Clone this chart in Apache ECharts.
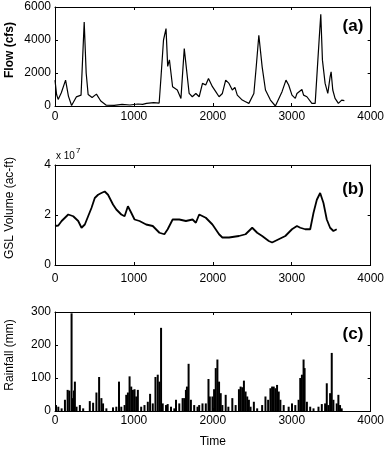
<!DOCTYPE html>
<html>
<head>
<meta charset="utf-8">
<script src="https://cdn.jsdelivr.net/npm/echarts@6/dist/echarts.min.js"></script>
<style>
  html, body { margin: 0; padding: 0; background: #fff; }
  #chart { width: 387px; height: 449px; }
</style>
</head>
<body>
<div id="chart"></div>
<script>
// (a) river flow, cfs
const flowTime = [0, 20, 40, 80, 134, 170, 210, 270, 330, 345, 370, 395, 420, 470, 525, 580, 650, 750, 850, 950, 1050, 1110, 1160, 1250, 1320, 1344, 1375, 1407, 1428, 1450, 1470, 1490, 1550, 1596, 1638, 1660, 1700, 1740, 1785, 1827, 1869, 1910, 1945, 1995, 2037, 2058, 2079, 2121, 2163, 2205, 2247, 2280, 2310, 2373, 2415, 2457, 2520, 2550, 2583, 2625, 2667, 2730, 2793, 2877, 2927, 2961, 3003, 3045, 3066, 3129, 3150, 3192, 3255, 3297, 3331, 3347, 3368, 3389, 3423, 3457, 3486, 3499, 3520, 3549, 3591, 3633, 3667];
const flowValue = [1570, 700, 400, 800, 1570, 600, 30, 550, 660, 560, 5090, 2000, 700, 520, 720, 300, 50, 40, 100, 60, 120, 100, 160, 200, 180, 1800, 4000, 4690, 2400, 2800, 2700, 1170, 970, 460, 3480, 3450, 760, 560, 760, 560, 1370, 1270, 1670, 1170, 870, 980, 560, 760, 1570, 1370, 970, 1130, 660, 360, 260, 160, 760, 2375, 4290, 2375, 970, 360, 0, 870, 1570, 1270, 660, 460, 760, 1000, 660, 560, 160, 160, 2780, 4000, 5560, 2780, 1370, 760, 1770, 2070, 970, 460, 160, 360, 330];

// (b) Great Salt Lake volume, x 10^7 ac-ft
const gslTime = [0, 42, 84, 168, 231, 294, 336, 378, 420, 462, 504, 546, 588, 630, 672, 735, 777, 840, 882, 924, 966, 1008, 1071, 1155, 1239, 1323, 1386, 1428, 1491, 1575, 1659, 1743, 1785, 1827, 1911, 1995, 2079, 2121, 2205, 2331, 2415, 2499, 2562, 2625, 2709, 2751, 2835, 2919, 3003, 3066, 3108, 3171, 3234, 3276, 3318, 3360, 3402, 3444, 3486, 3528, 3570];
const gslValue = [1.56, 1.58, 1.76, 2.02, 1.95, 1.76, 1.49, 1.62, 1.95, 2.28, 2.68, 2.81, 2.88, 2.94, 2.81, 2.42, 2.22, 2.02, 1.95, 2.35, 2.09, 1.82, 1.76, 1.62, 1.56, 1.29, 1.23, 1.43, 1.82, 1.82, 1.76, 1.82, 1.69, 2.02, 1.89, 1.62, 1.23, 1.10, 1.10, 1.16, 1.23, 1.49, 1.29, 1.16, 0.96, 0.90, 1.03, 1.16, 1.43, 1.56, 1.49, 1.43, 1.43, 2.09, 2.61, 2.88, 2.48, 1.82, 1.49, 1.36, 1.43];

// (c) rainfall, mm
const rainTime = [13, 42, 84, 126, 160, 181, 210, 223, 240, 252, 273, 315, 357, 441, 483, 525, 559, 588, 609, 651, 735, 777, 811, 840, 882, 903, 924, 945, 966, 987, 1008, 1029, 1050, 1092, 1134, 1176, 1205, 1239, 1273, 1302, 1323, 1344, 1365, 1407, 1428, 1470, 1512, 1533, 1575, 1617, 1638, 1659, 1672, 1693, 1722, 1764, 1806, 1827, 1869, 1911, 1945, 1962, 1995, 2016, 2037, 2058, 2079, 2100, 2121, 2163, 2197, 2247, 2289, 2331, 2352, 2373, 2394, 2415, 2436, 2457, 2478, 2520, 2562, 2625, 2667, 2701, 2730, 2751, 2772, 2793, 2814, 2835, 2856, 2898, 2961, 3003, 3045, 3087, 3108, 3129, 3150, 3163, 3192, 3234, 3276, 3339, 3381, 3423, 3444, 3465, 3486, 3507, 3528, 3570, 3591, 3612, 3633];
const rainValue = [18, 13, 8, 34, 64, 62, 296, 39, 62, 89, 13, 18, 8, 30, 25, 56, 103, 39, 23, 8, 11, 13, 89, 13, 18, 49, 56, 105, 74, 64, 66, 44, 64, 13, 18, 28, 52, 23, 103, 110, 89, 252, 23, 18, 21, 13, 8, 34, 23, 39, 39, 64, 74, 143, 34, 18, 13, 18, 23, 23, 97, 44, 44, 66, 130, 156, 89, 54, 18, 49, 13, 39, 18, 66, 74, 72, 92, 59, 44, 34, 13, 28, 8, 18, 44, 34, 69, 74, 74, 69, 79, 59, 34, 18, 13, 23, 18, 34, 100, 110, 156, 130, 28, 13, 8, 13, 21, 23, 84, 18, 54, 176, 34, 23, 49, 18, 8];

const xTicks = [0, 1000, 2000, 3000, 4000];

const chart = echarts.init(document.getElementById('chart'));

const font = 'Liberation Sans, Arial, sans-serif';
const grids = [
  {left: 55, top: 7, width: 319, height: 99},
  {left: 55, top: 165, width: 319, height: 100},
  {left: 55, top: 312, width: 319, height: 99}
];
const yRanges = [[0, 6000, 2000], [0, 4, 2], [0, 300, 100]];
const xLabelMargin = [5, 8, 4];
const plain = v => String(v);

function xAx(i, top) {
  return {
    type: 'value', gridIndex: i, min: xTicks[0], max: xTicks[xTicks.length - 1], interval: 1000,
    position: top ? 'top' : 'bottom',
    axisLine: {show: true, onZero: false, lineStyle: {color: '#000', width: 1}},
    axisTick: {show: true, inside: true, length: 3, lineStyle: {color: '#000'}},
    axisLabel: {show: !top, color: '#000', fontSize: 12, fontFamily: font, margin: xLabelMargin[i], formatter: plain},
    splitLine: {show: false}
  };
}
function yAx(i, right) {
  return {
    type: 'value', gridIndex: i, min: yRanges[i][0], max: yRanges[i][1], interval: yRanges[i][2],
    position: right ? 'right' : 'left',
    axisLine: {show: true, onZero: false, lineStyle: {color: '#000', width: 1}},
    axisTick: {show: true, inside: true, length: 3, lineStyle: {color: '#000'}},
    axisLabel: {show: !right, color: '#000', fontSize: 12, fontFamily: font, margin: 4, formatter: plain},
    splitLine: {show: false}
  };
}

const xAxes = [xAx(0), xAx(1), xAx(2), xAx(0, true), xAx(1, true), xAx(2, true)];
xAxes[2].name = 'Time';
xAxes[2].nameLocation = 'middle';
xAxes[2].nameGap = 25;
xAxes[2].nameTextStyle = {color: '#000', fontSize: 12, fontFamily: font};

function vtext(txt, x, y, weight) {
  return {type: 'text', x: x, y: y, rotation: Math.PI / 2,
    style: {text: txt, fill: '#000', font: (weight || 'normal') + ' 12px ' + font, textAlign: 'center', textVerticalAlign: 'middle'}};
}
function tag(txt, x, y) {
  return {type: 'text', x: x, y: y,
    style: {text: txt, fill: '#000', font: 'bold 17px ' + font, textAlign: 'center', textVerticalAlign: 'middle'}};
}

chart.setOption({
  animation: false,
  backgroundColor: '#fff',
  grid: grids,
  xAxis: xAxes,
  yAxis: [yAx(0), yAx(1), yAx(2), yAx(0, true), yAx(1, true), yAx(2, true)],
  series: [
    {type: 'line', xAxisIndex: 0, yAxisIndex: 0, showSymbol: false,
      lineStyle: {color: '#000', width: 1.2},
      data: flowTime.map((t, k) => [t, flowValue[k]])},
    {type: 'line', xAxisIndex: 1, yAxisIndex: 1, showSymbol: false,
      lineStyle: {color: '#000', width: 1.8},
      data: gslTime.map((t, k) => [t, gslValue[k]])},
    {type: 'bar', xAxisIndex: 2, yAxisIndex: 2, barWidth: 2,
      itemStyle: {color: '#000'},
      data: rainTime.map((t, k) => [t, rainValue[k]])}
  ],
  graphic: [
    vtext('Flow (cfs)', 10, 50, 'bold'),
    vtext('GSL Volume (ac-ft)', 10, 208),
    vtext('Rainfall (mm)', 10, 355),
    {type: 'text', x: 56, y: 156, style: {text: 'x 10', fill: '#000', font: '10px ' + font, textVerticalAlign: 'middle'}},
    {type: 'text', x: 76, y: 151, style: {text: '7', fill: '#000', font: '8px ' + font, textVerticalAlign: 'middle'}},
    tag('(a)', 353, 26),
    tag('(b)', 353, 189),
    tag('(c)', 353, 334)
  ]
});
</script>
</body>
</html>
